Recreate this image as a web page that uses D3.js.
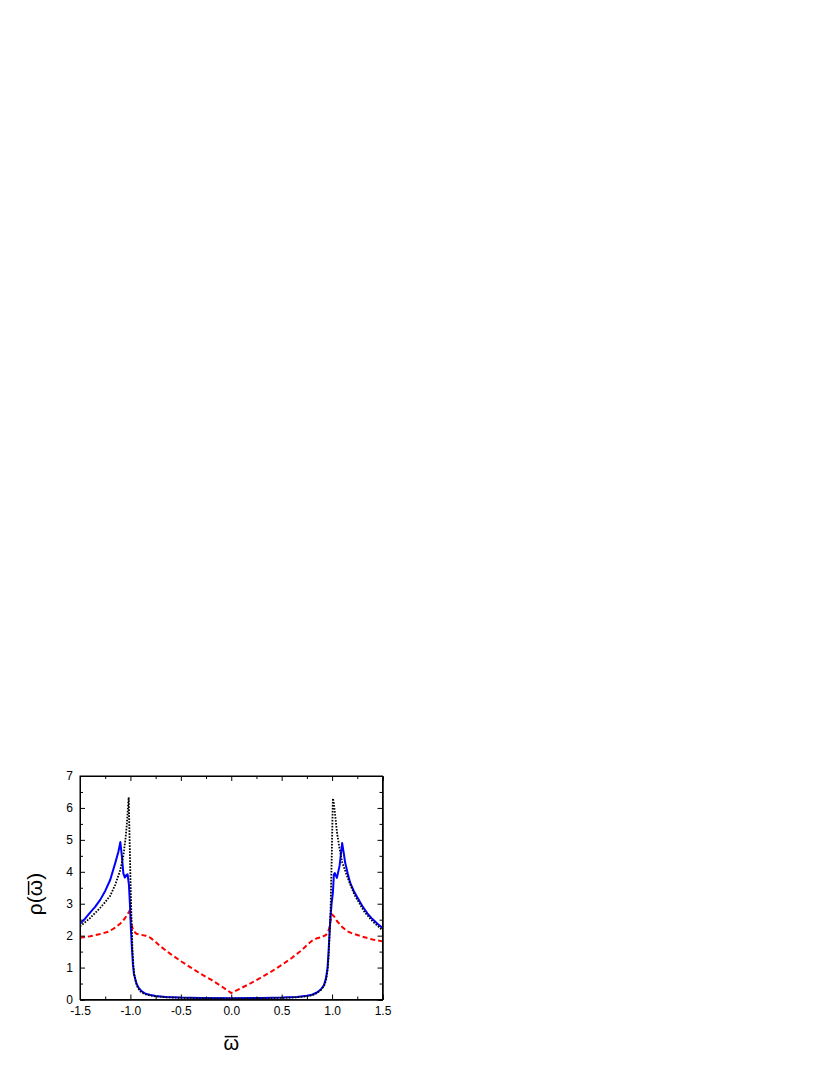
<!DOCTYPE html>
<html>
<head>
<meta charset="utf-8">
<script src="https://cdn.jsdelivr.net/npm/d3@7"></script>
<style>
  html, body { margin: 0; padding: 0; background: #fff; }
  text { font-family: "Liberation Sans", Arial, sans-serif; }
</style>
</head>
<body>
<svg id="chart" width="830" height="1075"></svg>
<script>
// ---- data ----
const xTicks = [-1.5, -1.0, -0.5, 0.0, 0.5, 1.0, 1.5];
const xTickLabels = ["-1.5", "-1.0", "-0.5", "0.0", "0.5", "1.0", "1.5"];
const yTicks = [0, 1, 2, 3, 4, 5, 6, 7];
const yTickLabels = ["0", "1", "2", "3", "4", "5", "6", "7"];

const blueX = [-1.5, -1.45, -1.4, -1.35, -1.3, -1.25, -1.2, -1.15, -1.12, -1.1, -1.085, -1.07, -1.055, -1.04, -1.028, -1.015, -1.005, -0.995, -0.985, -0.975, -0.965, -0.955, -0.94, -0.92, -0.89, -0.85, -0.8, -0.75, -0.65, -0.5, -0.3, 0.0,
  0.3, 0.5, 0.65, 0.75, 0.8, 0.85, 0.89, 0.92, 0.94, 0.955, 0.965, 0.975, 0.985, 0.995, 1.008, 1.018, 1.027, 1.048, 1.075, 1.1, 1.115, 1.13, 1.155, 1.18, 1.215, 1.25, 1.3, 1.35, 1.4, 1.45, 1.5];
const blueY = [2.37, 2.53, 2.72, 2.9, 3.12, 3.4, 3.75, 4.28, 4.62, 4.93, 4.5, 3.95, 3.82, 3.9, 3.92, 3.6, 3.0, 2.2, 1.6, 1.1, 0.8, 0.68, 0.5, 0.37, 0.26, 0.18, 0.14, 0.11, 0.08, 0.06, 0.05, 0.04,
  0.05, 0.06, 0.08, 0.12, 0.15, 0.22, 0.32, 0.45, 0.68, 1.0, 1.5, 2.1, 2.6, 3.0, 3.34, 3.92, 3.96, 3.81, 4.2, 4.9, 4.6, 4.28, 3.95, 3.65, 3.4, 3.2, 2.93, 2.7, 2.52, 2.37, 2.24];

const blackX = [-1.5, -1.4, -1.3, -1.25, -1.2, -1.15, -1.1, -1.07, -1.05, -1.035, -1.025, -1.017, -1.008, -1.0, -0.99, -0.98, -0.97, -0.96, -0.945, -0.925, -0.9, -0.86, -0.8, -0.75, -0.65, -0.5, -0.3, 0.0,
  0.3, 0.5, 0.65, 0.75, 0.8, 0.85, 0.89, 0.92, 0.94, 0.955, 0.965, 0.975, 0.985, 0.995, 1.008, 1.015, 1.03, 1.05, 1.07, 1.1, 1.157, 1.223, 1.32, 1.404, 1.5];
const blackY = [2.29, 2.55, 2.87, 3.05, 3.25, 3.6, 4.06, 4.5, 5.0, 5.5, 6.0, 6.33, 5.0, 3.8, 2.6, 1.6, 1.05, 0.75, 0.52, 0.36, 0.25, 0.17, 0.12, 0.1, 0.07, 0.05, 0.04, 0.03,
  0.04, 0.05, 0.07, 0.1, 0.13, 0.2, 0.3, 0.42, 0.6, 0.9, 1.3, 2.0, 2.8, 4.2, 6.3, 6.2, 5.8, 5.2, 4.8, 4.3, 3.79, 3.27, 2.75, 2.44, 2.17];

const redX = [-1.5, -1.4, -1.3, -1.22, -1.15, -1.1, -1.06, -1.03, -1.012, -1.0, -0.985, -0.97, -0.94, -0.9, -0.85, -0.8, -0.75, -0.7, -0.6, -0.5, -0.4, -0.3, -0.2, -0.1, -0.03, 0.0,
  0.03, 0.1, 0.2, 0.3, 0.4, 0.5, 0.6, 0.7, 0.75, 0.8, 0.85, 0.9, 0.94, 0.97, 0.99, 1.0, 1.02, 1.05, 1.1, 1.15, 1.2, 1.3, 1.4, 1.5];
const redY = [1.93, 1.98, 2.05, 2.12, 2.25, 2.38, 2.52, 2.66, 2.76, 2.6, 2.3, 2.15, 2.06, 2.03, 2.0, 1.93, 1.8, 1.66, 1.42, 1.2, 1.0, 0.8, 0.62, 0.42, 0.27, 0.2,
  0.25, 0.36, 0.52, 0.7, 0.88, 1.08, 1.3, 1.55, 1.7, 1.84, 1.92, 1.96, 2.02, 2.2, 2.55, 2.66, 2.6, 2.45, 2.27, 2.14, 2.07, 1.97, 1.88, 1.82];

// ---- layout ----
const svg = d3.select("#chart");
const pL = 80, pR = 382.5, pT = 776, pB = 999.5;

const x = d3.scaleLinear().domain([-1.5, 1.5]).range([pL, pR]);
const y = d3.scaleLinear().domain([0, 7]).range([pB, pT]);

const defs = svg.append("defs");
defs.append("clipPath").attr("id", "clip")
  .append("rect").attr("x", pL).attr("y", pT).attr("width", pR - pL).attr("height", pB - pT);

const plot = svg.append("g").attr("clip-path", "url(#clip)");

function series(xs, ys) { return xs.map((v, i) => [v, ys[i]]); }
const line = d3.line().x(d => x(d[0])).y(d => y(d[1]));

plot.append("path").datum(series(redX, redY))
  .attr("d", line).attr("fill", "none").attr("stroke", "#ff0000")
  .attr("stroke-width", 2).attr("stroke-dasharray", "5,3");

plot.append("path").datum(series(blueX, blueY))
  .attr("d", line).attr("fill", "none").attr("stroke", "#0000ff")
  .attr("stroke-width", 2).attr("stroke-linejoin", "round");

plot.append("path").datum(series(blackX, blackY))
  .attr("d", line).attr("fill", "none").attr("stroke", "#000")
  .attr("stroke-width", 1.8).attr("stroke-dasharray", "1.6,1.4");

// ---- axes ----
const xMinor = d3.range(-1.25, 1.5, 0.5);
const yMinor = d3.range(0.5, 7, 1);

const axB = d3.axisBottom(x).tickValues(xTicks).tickSize(-5).tickPadding(7)
  .tickFormat((d, i) => xTickLabels[i]);
svg.append("g").attr("transform", `translate(0,${pB})`).call(axB);
svg.append("g").attr("transform", `translate(0,${pB})`)
  .call(d3.axisBottom(x).tickValues(xMinor).tickSize(-3).tickFormat(""));
svg.append("g").attr("transform", `translate(0,${pT})`)
  .call(d3.axisTop(x).tickValues(xTicks).tickSize(-5).tickFormat(""));
svg.append("g").attr("transform", `translate(0,${pT})`)
  .call(d3.axisTop(x).tickValues(xMinor).tickSize(-3).tickFormat(""));

const axL = d3.axisLeft(y).tickValues(yTicks).tickSize(-5).tickPadding(7)
  .tickFormat((d, i) => yTickLabels[i]);
svg.append("g").attr("transform", `translate(${pL},0)`).call(axL);
svg.append("g").attr("transform", `translate(${pL},0)`)
  .call(d3.axisLeft(y).tickValues(yMinor).tickSize(-3).tickFormat(""));
svg.append("g").attr("transform", `translate(${pR},0)`)
  .call(d3.axisRight(y).tickValues(yTicks).tickSize(-5).tickFormat(""));
svg.append("g").attr("transform", `translate(${pR},0)`)
  .call(d3.axisRight(y).tickValues(yMinor).tickSize(-3).tickFormat(""));

svg.selectAll(".domain").attr("stroke", "#000").attr("stroke-width", 1);
svg.selectAll(".tick line").attr("stroke", "#000").attr("stroke-width", 1);
svg.selectAll(".tick text").attr("font-family", "'Liberation Sans', Arial, sans-serif")
  .attr("font-size", 12).attr("fill", "#000");

// frame
svg.append("rect").attr("x", pL).attr("y", pT).attr("width", pR - pL).attr("height", pB - pT)
  .attr("fill", "none").attr("stroke", "#000").attr("stroke-width", 1);

// ---- titles (ω with an overbar = ϖ) ----
function barredTitle(g, parts, barIndex, fs) {
  const t = g.append("text").attr("font-size", fs).attr("fill", "#000").attr("text-anchor", "middle");
  t.text(parts.join(""));
  const node = t.node();
  const ext = node.getExtentOfChar(barIndex);
  const barY = -fs * 0.519 - 2.5;
  g.append("line")
    .attr("x1", ext.x + ext.width * 0.08).attr("x2", ext.x + ext.width * 0.92)
    .attr("y1", barY).attr("y2", barY)
    .attr("stroke", "#000").attr("stroke-width", 1.5);
}

const yTitle = svg.append("g").attr("transform", `translate(42,894) rotate(-90)`);
barredTitle(yTitle, ["ρ", "(", "ω", ")"], 2, 21);

const xTitle = svg.append("g").attr("transform", `translate(${(pL + pR) / 2},1049.5)`);
barredTitle(xTitle, ["ω"], 0, 20);
</script>
</body>
</html>
